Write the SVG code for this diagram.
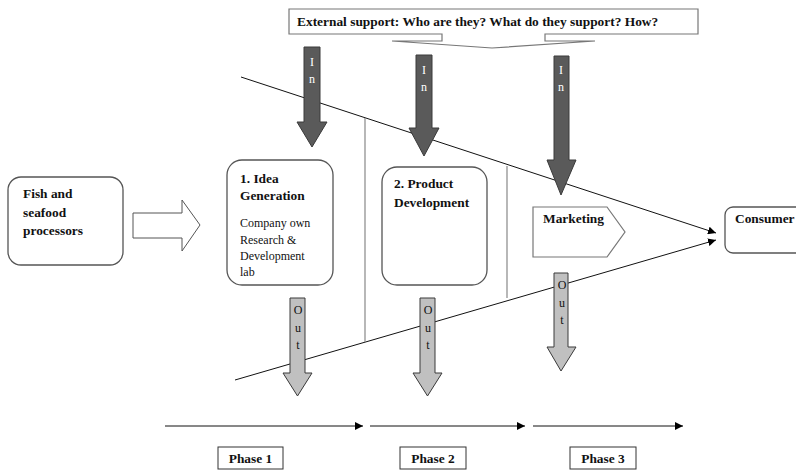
<svg xmlns="http://www.w3.org/2000/svg" width="796" height="470" viewBox="0 0 796 470">
<defs>
<marker id="ah" viewBox="0 0 10 10" refX="10" refY="5" markerWidth="8" markerHeight="8" markerUnits="userSpaceOnUse" orient="auto">
<path d="M0,0 L10,5 L0,10 Z" fill="#000"/>
</marker>
<style>
text{font-family:"Liberation Serif","Times New Roman",serif;fill:#111}
.b{font-weight:bold;font-size:13.4px}
.n{font-size:12px}
.box{fill:#fff;stroke:#555;stroke-width:1.3}
.in{fill:#5a5a5a;stroke:#3a3a3a;stroke-width:1}
.out{fill:#c0c0c0;stroke:#3a3a3a;stroke-width:1}
.wt{fill:#fff;font-size:12px;text-anchor:middle}
.bt{fill:#111;font-size:12px;text-anchor:middle}
.ln{stroke:#111;stroke-width:1;fill:none}
.dv{stroke:#888;stroke-width:1.2}
.ph{fill:#fff;stroke:#333;stroke-width:1}
</style>
</defs>
<rect width="796" height="470" fill="#fff"/>

<g id="connectors">
<line class="ln" x1="241" y1="77" x2="716" y2="233" marker-end="url(#ah)"/>
<line class="ln" x1="235" y1="380" x2="716" y2="240" marker-end="url(#ah)"/>
<line class="dv" x1="365" y1="118" x2="365" y2="342"/>
<line class="dv" x1="507" y1="166" x2="507" y2="298"/>
<polygon points="133,213 182,213 182,200 200,225 182,251 182,238 133,238" fill="#fff" stroke="#555" stroke-width="1"/>
<line class="ln" x1="165" y1="426" x2="363" y2="426" marker-end="url(#ah)"/>
<line class="ln" x1="370" y1="426" x2="525" y2="426" marker-end="url(#ah)"/>
<line class="ln" x1="533" y1="426" x2="683" y2="426" marker-end="url(#ah)"/>
</g>

<g id="external-support">
<path d="M289,9 H698 V34 H545 V41 H595 L492,48 L392,41 H442 V34 H289 Z" fill="#fff" stroke="#777" stroke-width="1.2"/>
<text class="b" x="297" y="26">External support: Who are they? What do they support? How?</text>
</g>

<g id="in-arrow-1">
<polygon class="in" points="304,47 320,47 320,122 327,122 312,147 297,122 304,122"/>
<text class="wt" x="312" y="66">I</text>
<text class="wt" x="312" y="83">n</text>
</g>
<g id="in-arrow-2">
<polygon class="in" points="416,55 432,55 432,128 439,128 424,156 409,128 416,128"/>
<text class="wt" x="424" y="74">I</text>
<text class="wt" x="424" y="91">n</text>
</g>
<g id="in-arrow-3">
<polygon class="in" points="554,56 569,56 569,160 576,160 561,195 547,160 554,160"/>
<text class="wt" x="561" y="74">I</text>
<text class="wt" x="561" y="91">n</text>
</g>

<g id="fish-processors">
<rect class="box" x="8" y="177" width="115" height="88" rx="13"/>
<text class="b" x="23" y="197.5">Fish and</text>
<text class="b" x="23" y="216.5">seafood</text>
<text class="b" x="23" y="234.5">processors</text>
</g>

<g id="idea-generation">
<rect class="box" x="227" y="160" width="106" height="125" rx="15"/>
<text class="b" x="240" y="182.5">1. Idea</text>
<text class="b" x="240" y="199.5">Generation</text>
<text class="n" x="240" y="227">Company own</text>
<text class="n" x="240" y="244">Research &amp;</text>
<text class="n" x="240" y="260">Development</text>
<text class="n" x="240" y="276">lab</text>
</g>

<g id="product-development">
<rect class="box" x="382" y="167" width="105" height="118" rx="15"/>
<text class="b" x="394" y="187.5">2. Product</text>
<text class="b" x="394" y="206.5">Development</text>
</g>

<g id="marketing">
<polygon points="533,207 607,207 625,232 607,257 533,257" fill="#fff" stroke="#777" stroke-width="1.2"/>
<text class="b" x="543" y="222.5">Marketing</text>
</g>

<g id="consumer">
<rect class="box" x="725" y="207" width="90" height="46" rx="8"/>
<text class="b" x="735" y="222.5">Consumer</text>
</g>

<g id="out-arrow-1">
<polygon class="out" points="290,298 305,298 305,373 312,373 297.5,396 283,373 290,373"/>
<text class="bt" x="298" y="314">O</text>
<text class="bt" x="298" y="332">u</text>
<text class="bt" x="298" y="349">t</text>
</g>
<g id="out-arrow-2">
<polygon class="out" points="420,298 435,298 435,373 442,373 427.5,396 413,373 420,373"/>
<text class="bt" x="428" y="314">O</text>
<text class="bt" x="428" y="332">u</text>
<text class="bt" x="428" y="349">t</text>
</g>
<g id="out-arrow-3">
<polygon class="out" points="554,273 568,273 568,347 576,347 561,371 547,347 554,347"/>
<text class="bt" x="562" y="289">O</text>
<text class="bt" x="562" y="307">u</text>
<text class="bt" x="562" y="324">t</text>
</g>

<g id="phase-1">
<rect class="ph" x="218" y="447" width="65" height="22"/>
<text class="b" x="250.5" y="462.5" text-anchor="middle">Phase 1</text>
</g>
<g id="phase-2">
<rect class="ph" x="400" y="447" width="66" height="22"/>
<text class="b" x="433" y="462.5" text-anchor="middle">Phase 2</text>
</g>
<g id="phase-3">
<rect class="ph" x="570" y="447" width="66" height="22"/>
<text class="b" x="603" y="462.5" text-anchor="middle">Phase 3</text>
</g>
</svg>
